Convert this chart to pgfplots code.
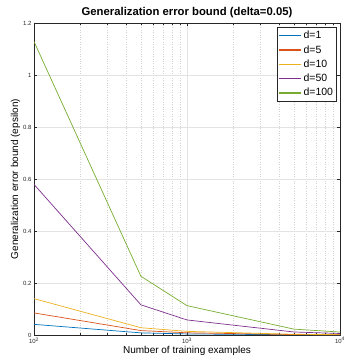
\documentclass[border=0pt]{standalone}
\usepackage{fontspec}
\setmainfont{Liberation Sans}
\usepackage{pgfplots}
\pgfplotsset{compat=1.18}
\definecolor{c1}{rgb}{0,0.447,0.741}
\definecolor{c2}{rgb}{0.85,0.325,0.098}
\definecolor{c3}{rgb}{0.929,0.694,0.125}
\definecolor{c4}{rgb}{0.494,0.184,0.556}
\definecolor{c5}{rgb}{0.466,0.674,0.188}
\definecolor{axgray}{rgb}{0.15,0.15,0.15}
\begin{document}
\begin{tikzpicture}
\path[use as bounding box] (-34pt,-29pt) rectangle (312pt,335pt);
\begin{axis}[
  at={(0,0)}, anchor=south west,
  scale only axis, width=306pt, height=312pt,
  xmode=log, xmin=100, xmax=10000, ymin=0, ymax=1.2,
  xtick={100,1000,10000},
  xticklabels={10\textsuperscript{2},10\textsuperscript{3},10\textsuperscript{4}},
  ytick={0,0.2,0.4,0.6,0.8,1,1.2},
  yticklabels={0,0.2,0.4,0.6,0.8,1,1.2},
  tick label style={font=\fontsize{6}{7}\selectfont, text=axgray},
  xticklabel style={yshift=1pt},
  yticklabel style={xshift=1pt},
  tick align=inside,
  major tick length=3pt, minor tick length=1.8pt,
  tick style={axgray, line width=0.4pt},
  axis line style={axgray, line width=0.5pt},
  xmajorgrids, ymajorgrids, xminorgrids,
  major grid style={gray!22, line width=0.4pt},
  minor grid style={gray!35, dotted, line width=0.4pt},
  title={Generalization error bound (delta=0.05)},
  title style={font=\bfseries\fontsize{11.3}{13}\selectfont, yshift=-4pt},
  xlabel={Number of training examples},
  ylabel={Generalization error bound (epsilon)},
  label style={font=\fontsize{10}{12}\selectfont},
  xlabel style={yshift=4pt},
  ylabel style={yshift=-4pt},
  legend cell align=left,
  legend style={at={(0.988,0.986)}, anchor=north east,
    draw=axgray, line width=0.5pt, font=\fontsize{10.5}{12}\selectfont,
    inner xsep=1pt, inner ysep=1.5pt, row sep=1.2pt},
  legend image code/.code={\draw[#1, line width=1.4pt] (0pt,0pt) -- (22pt,0pt);},
  every axis plot/.append style={line width=0.7pt},
]
\addplot[draw=c1] coordinates {(100,0.04095) (500,0.00819) (1000,0.004095) (5000,0.000819) (10000,0.00041)};
\addlegendentry{d=1}
\addplot[draw=c2] coordinates {(100,0.0849) (500,0.01698) (1000,0.00849) (5000,0.0017) (10000,0.00085)};
\addlegendentry{d=5}
\addplot[draw=c3] coordinates {(100,0.1398) (500,0.02797) (1000,0.01398) (5000,0.0028) (10000,0.0014)};
\addlegendentry{d=10}
\addplot[draw=c4] coordinates {(100,0.5793) (500,0.1159) (1000,0.0579) (5000,0.01159) (10000,0.0058)};
\addlegendentry{d=50}
\addplot[draw=c5] coordinates {(100,1.1286) (500,0.2257) (1000,0.1129) (5000,0.0226) (10000,0.0113)};
\addlegendentry{d=100}
\end{axis}
\end{tikzpicture}
\end{document}
